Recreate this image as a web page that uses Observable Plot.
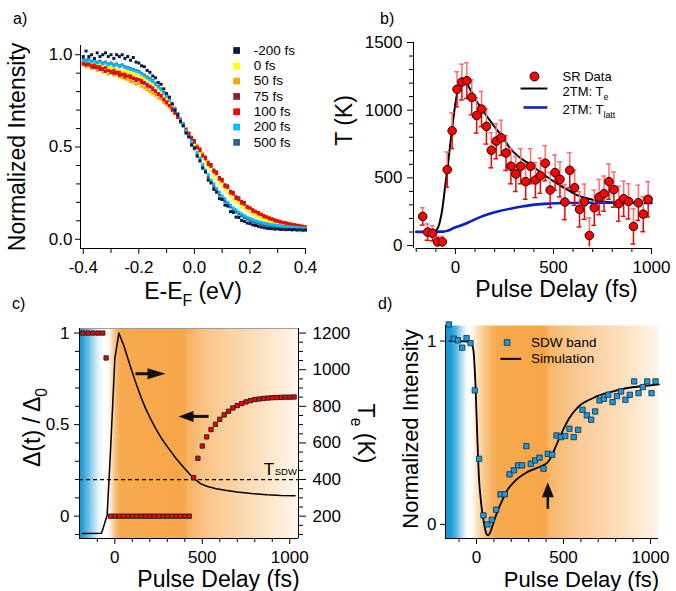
<!DOCTYPE html>
<html><head><meta charset="utf-8">
<script src="https://cdn.jsdelivr.net/npm/d3@7"></script>
<script src="https://cdn.jsdelivr.net/npm/@observablehq/plot@0.6"></script>
<style>
body{margin:0;background:#fff;}
#fig{position:relative;width:676px;height:591px;overflow:hidden;background:#fff;font-family:'Liberation Sans',Arial,Helvetica,sans-serif;color:#000;}
.plab{position:absolute;font-size:16px;line-height:16px;}
</style></head><body><div id="fig"></div>
<script>
// ---------- Panel a: EDCs ----------
const energy = [-0.40,-0.39,-0.38,-0.37,-0.36,-0.35,-0.34,-0.33,-0.32,-0.31,
 -0.30,-0.29,-0.28,-0.27,-0.26,-0.25,-0.24,-0.23,-0.22,-0.21,
 -0.20,-0.19,-0.18,-0.17,-0.16,-0.15,-0.14,-0.13,-0.12,-0.11,
 -0.10,-0.09,-0.08,-0.07,-0.06,-0.05,-0.04,-0.03,-0.02,-0.01,
 0.00,0.01,0.02,0.03,0.04,0.05,0.06,0.07,0.08,0.09,
 0.10,0.11,0.12,0.13,0.14,0.15,0.16,0.17,0.18,0.19,
 0.20,0.21,0.22,0.23,0.24,0.25,0.26,0.27,0.28,0.29,
 0.30,0.31,0.32,0.33,0.34,0.35,0.36,0.37,0.38,0.39,0.40];
const delayLabels = ["-200 fs","0 fs","50 fs","75 fs","100 fs","200 fs","500 fs"];
const edc_m200 = [0.99,1.02,0.99,1.00,0.98,1.01,0.99,1.00,1.01,0.99,
 1.00,0.98,1.00,0.99,1.00,0.98,0.99,0.97,0.985,0.96,
 0.955,0.94,0.935,0.915,0.905,0.885,0.875,0.85,0.84,0.815,
 0.79,0.77,0.735,0.70,0.675,0.64,0.615,0.575,0.555,0.51,
 0.495,0.45,0.425,0.385,0.365,0.32,0.305,0.27,0.255,0.22,
 0.215,0.185,0.18,0.15,0.145,0.12,0.118,0.102,0.097,0.088,
 0.085,0.078,0.075,0.07,0.066,0.063,0.06,0.058,0.057,0.055,
 0.056,0.053,0.054,0.052,0.053,0.051,0.052,0.05,0.051,0.049,0.05];
const edc_0 = [0.96,0.955,0.955,0.95,0.945,0.945,0.94,0.935,0.935,0.93,
 0.93,0.925,0.92,0.915,0.91,0.91,0.905,0.90,0.895,0.89,
 0.885,0.875,0.87,0.86,0.85,0.84,0.83,0.815,0.80,0.78,
 0.765,0.745,0.725,0.705,0.68,0.655,0.63,0.60,0.575,0.545,
 0.52,0.495,0.47,0.44,0.415,0.39,0.37,0.345,0.325,0.30,
 0.285,0.265,0.25,0.23,0.215,0.20,0.19,0.175,0.165,0.155,
 0.145,0.135,0.13,0.12,0.115,0.108,0.103,0.098,0.094,0.09,
 0.087,0.084,0.082,0.08,0.077,0.075,0.073,0.071,0.07,0.068,0.066];
const edc_50 = [0.945,0.935,0.94,0.925,0.93,0.915,0.92,0.905,0.91,0.895,
 0.90,0.89,0.895,0.88,0.875,0.87,0.865,0.855,0.85,0.84,
 0.845,0.83,0.82,0.81,0.80,0.79,0.78,0.765,0.76,0.74,
 0.73,0.715,0.70,0.68,0.66,0.64,0.62,0.60,0.575,0.555,
 0.53,0.51,0.485,0.465,0.44,0.42,0.40,0.375,0.355,0.335,
 0.315,0.295,0.28,0.26,0.245,0.23,0.22,0.205,0.19,0.18,
 0.17,0.16,0.155,0.145,0.14,0.13,0.125,0.118,0.112,0.107,
 0.10,0.097,0.093,0.09,0.086,0.085,0.08,0.078,0.075,0.072,0.07];
const edc_75 = [0.95,0.945,0.95,0.935,0.93,0.935,0.92,0.925,0.91,0.915,
 0.905,0.90,0.905,0.89,0.895,0.88,0.885,0.875,0.87,0.86,
 0.865,0.85,0.845,0.83,0.825,0.81,0.80,0.785,0.775,0.755,
 0.74,0.725,0.70,0.685,0.66,0.64,0.615,0.595,0.57,0.55,
 0.535,0.50,0.49,0.455,0.445,0.415,0.405,0.375,0.365,0.335,
 0.325,0.295,0.29,0.26,0.255,0.23,0.225,0.205,0.20,0.177,
 0.17,0.16,0.15,0.145,0.135,0.128,0.12,0.115,0.11,0.104,
 0.10,0.095,0.09,0.088,0.084,0.08,0.078,0.075,0.072,0.07,0.066];
const edc_100 = [0.955,0.96,0.945,0.94,0.945,0.93,0.935,0.92,0.93,0.915,
 0.91,0.915,0.90,0.905,0.89,0.895,0.885,0.885,0.875,0.87,
 0.865,0.86,0.85,0.84,0.83,0.82,0.805,0.79,0.78,0.76,
 0.745,0.725,0.71,0.685,0.67,0.635,0.625,0.585,0.575,0.54,
 0.525,0.495,0.48,0.45,0.435,0.405,0.395,0.365,0.355,0.325,
 0.315,0.285,0.28,0.25,0.245,0.22,0.215,0.195,0.19,0.172,
 0.168,0.152,0.148,0.137,0.133,0.122,0.12,0.11,0.108,0.099,
 0.097,0.093,0.09,0.086,0.083,0.08,0.077,0.075,0.072,0.068,0.065];
const edc_200 = [0.97,0.965,0.97,0.96,0.965,0.955,0.96,0.95,0.955,0.945,
 0.95,0.94,0.945,0.935,0.94,0.93,0.925,0.92,0.915,0.91,
 0.905,0.895,0.885,0.875,0.865,0.855,0.84,0.825,0.81,0.79,
 0.775,0.755,0.73,0.71,0.68,0.655,0.625,0.59,0.56,0.53,
 0.50,0.47,0.44,0.405,0.375,0.35,0.32,0.30,0.275,0.255,
 0.235,0.22,0.20,0.185,0.17,0.16,0.148,0.138,0.128,0.12,
 0.113,0.107,0.10,0.096,0.092,0.088,0.085,0.082,0.079,0.077,
 0.075,0.073,0.071,0.07,0.068,0.066,0.065,0.063,0.062,0.061,0.06];
const edc_500 = [0.975,0.97,0.975,0.965,0.97,0.96,0.965,0.955,0.96,0.95,
 0.955,0.945,0.95,0.94,0.945,0.935,0.93,0.925,0.92,0.915,
 0.91,0.90,0.89,0.88,0.87,0.86,0.845,0.83,0.815,0.795,
 0.78,0.755,0.73,0.705,0.68,0.65,0.62,0.585,0.555,0.52,
 0.49,0.46,0.425,0.395,0.365,0.335,0.31,0.285,0.26,0.24,
 0.22,0.205,0.19,0.175,0.16,0.148,0.137,0.127,0.118,0.11,
 0.103,0.097,0.092,0.087,0.083,0.08,0.077,0.074,0.072,0.07,
 0.068,0.066,0.065,0.063,0.062,0.061,0.06,0.059,0.058,0.057,0.056];
const aXTicks = [-0.4,-0.2,0,0.2,0.4];
const aXMinor = [-0.3,-0.1,0.1,0.3];
const aYTicks = [0,0.5,1];
const aYMinor = [0.1,0.2,0.3,0.4,0.6,0.7,0.8,0.9];

// ---------- Panel b: SR temperatures ----------
const srDelay = [-167,-142,-117,-92,-67,-42,-17,8,33,58,83,108,133,158,183,208,233,258,283,308,333,358,383,408,433,458,483,508,533,558,583,608,633,658,683,708,733,758,783,808,833,858,883,908,933,958,983];
const srTemp = [215,99,91,27,27,561,848,1154,1208,1218,1095,961,1008,880,704,771,796,684,586,529,586,472,586,484,516,608,410,539,489,321,556,427,267,324,74,279,358,383,472,413,309,346,326,141,316,232,341];
const srErr = [64,60,56,40,40,130,132,130,132,132,
 130,130,130,130,130,130,130,130,130,130,
 130,130,130,130,130,130,130,130,130,130,
 130,130,130,130,130,130,130,130,130,130,
 130,130,130,130,130,130,130];
const teDelayB = [-200,-120,-100,-78,-65,-53,-36,-19,7,20,32,41,60,80,110,143,180,220,246,280,320,382,450,519,580,621,680,723,775,850,1000];
const teB = [100,100,110,185,290,432,630,840,1112,1180,1203,1210,1190,1140,1060,990,915,840,790,715,660,598,525,457,405,372,345,330,321,316,312];
const tlDelayB = [-200,-60,-40,0,41,80,126,170,220,280,340,405,480,553,700,850,1000];
const tlB = [101,103,110,135,155,180,210,233,253,272,288,302,310,314,316,316,316];
const bXTicks = [0,500,1000];
const bXMinor = [-200,-100,100,200,300,400,600,700,800,900];
const bYTicks = [0,500,1000,1500];
const bYMinor = [100,200,300,400,600,700,800,900,1100,1200,1300,1400];

// ---------- Panel c: gap and Te ----------
const gapDelay = [-183,-154,-126,-97,-69,-50,
 -25,0,25,50,75,100,125,150,175,200,225,250,275,300,325,350,375,400,425,
 450,475,500,525,550,575,600,625,650,675,700,725,750,775,800,825,850,875,900,925,950,975,1000,1025];
const gapRatio = [1,1,1,1,1,0.864,
 0,0,0,0,0,0,0,0,0,0,0,0,0,0,0,0,0,0,0,
 0.21,0.316,0.383,0.433,0.473,0.502,0.529,0.553,0.573,0.591,0.604,0.615,0.624,0.631,0.637,0.640,0.643,0.645,0.647,0.648,0.649,0.650,0.650,0.651];
const teDelayC = [-185,-76,-44,-25,0,23,52,75,100,125,150,175,200,233,270,300,350,395,452,490,530,580,640,700,780,870,950,1030];
const teC = [105,106,205,550,1060,1200,1130,1060,985,915,850,790,740,680,620,580,515,465,405,378,362,350,340,332,324,317,313,311];
const tSDW = 400;
const cXTicks = [0,500,1000];
const cXMinor = [-100,100,200,300,400,600,700,800,900];
const cYTicks = [0,0.5,1];
const cYMinor = [-0.1,0.1,0.2,0.3,0.4,0.6,0.7,0.8,0.9];
const cTeTicks = [200,400,600,800,1000,1200];
const cTeMinor = [100,150,250,300,350,450,500,550,650,700,750,850,900,950,1050,1100,1150];

// ---------- Panel d: SDW band ----------
const sdwDelay = [-159,-130,-107,-82,-57,-34,-10,15,40,63,88,113,138,163,190,215,239,262,287,312,337,362,385,410,435,460,485,510,534,559,584,609,634,659,682,707,732,757,782,807,831,856,881,906,931,956,981,1006,1029];
const sdwInt = [1.091,1.013,1.004,0.964,1.016,0.989,0.731,0.358,0.049,0.0,0.025,0.08,0.164,0.164,0.273,0.295,0.322,0.322,0.427,0.331,0.349,0.364,0.304,0.385,0.38,0.485,0.476,0.482,0.522,0.476,0.516,0.625,0.595,0.571,0.616,0.676,0.685,0.707,0.667,0.70,0.725,0.68,0.707,0.78,0.716,0.749,0.78,0.716,0.78];
const simDelay = [-155,-100,-34,-19,-6,4,13,27,42,57,67,80,96,119,148,176,215,291,368,406,429,454,483,531,579,674,770,866,962,1048];
const simInt = [1.0,1.0,0.995,0.958,0.767,0.495,0.276,0.113,0.013,-0.051,-0.06,-0.042,0.004,0.067,0.131,0.185,0.231,0.285,0.316,0.335,0.367,0.422,0.485,0.576,0.636,0.691,0.722,0.744,0.755,0.764];
const dXTicks = [0,500,1000];
const dXMinor = [-100,100,200,300,400,600,700,800,900];
const dYTicks = [0,1];

// ---------- styles / layout ----------
const seriesColors = ["#0a1a40","#ffff00","#ffa500","#9b1c24","#ff0000","#00bfff","#3a5f8f"];
const seriesValues = [edc_m200, edc_0, edc_50, edc_75, edc_100, edc_200, edc_500];
const drawOrder = [1,2,3,4,6,5,0];
const FONT = "'Liberation Sans', Arial, Helvetica, sans-serif";
const baseStyle = {fontFamily: FONT, fontSize: "17px", color: "#000", background: "transparent", overflow: "visible"};
const gradC = [[-202,"#0f93d0"],[-185,"#2aa0d6"],[-150,"#6cbfe5"],[-125,"#a6d8ef"],[-100,"#d8eef8"],[-80,"#f4fafd"],[-55,"#ffffff"],[-35,"#fffbf6"],[-15,"#fad9b0"],[5,"#f8bd78"],[25,"#f7ac55"],[40,"#f7a94d"],[390,"#f6a748"],[420,"#f7b262"],[490,"#f9c07f"],[600,"#facc98"],[700,"#fbd4a8"],[850,"#fde3c4"],[1050,"#fff6ec"]];
const gradD = [[-178,"#1096d2"],[-145,"#1f9dd6"],[-115,"#5cb8e2"],[-90,"#aad9ef"],[-65,"#e6f4fa"],[-50,"#ffffff"],[-25,"#fffdfb"],[0,"#fde4c4"],[40,"#f9c98c"],[90,"#f7b263"],[120,"#f7a94d"],[395,"#f6a748"],[420,"#f7b566"],[490,"#f9c07f"],[600,"#facb97"],[700,"#fbd3a7"],[870,"#fde2c3"],[1046,"#fff5ea"]];

// arrow head symbols (pixel geometry, tip at the anchor)
const headRight = {draw(c){c.moveTo(0,0);c.lineTo(-18,-5.5);c.lineTo(-18,5.5);c.closePath();}};
const headLeft = {draw(c){c.moveTo(0,0);c.lineTo(15,-5.5);c.lineTo(15,5.5);c.closePath();}};
const headUp = {draw(c){c.moveTo(0,0);c.lineTo(-6,15);c.lineTo(6,15);c.closePath();}};

function ax(kind, opts){ return (kind==="x"?Plot.axisX:Plot.axisY)({label:null, ...opts}); }
const blank = () => "";
const str = d => String(d);
const lbl = (text, opts) => Plot.text([text], {textAnchor: "middle", lineAnchor: "middle", fontSize: 23, ...opts});

// ---------- Panel A ----------
const aRows = seriesValues.map((vals,s)=>energy.map((e,i)=>({e, v: vals[i], s})));
const aLegendY = [1.023,0.940,0.857,0.774,0.691,0.608,0.525];
const A = Plot.plot({
  width: 330, height: 300, marginLeft: 80, marginRight: 25, marginTop: 45, marginBottom: 52,
  x: {domain: [-0.41, 0.40]}, y: {domain: [-0.05, 1.05]}, color: {type: "identity"},
  style: baseStyle,
  marks: [
    Plot.ruleX([-0.41]), Plot.ruleY([-0.05]),
    ax("x", {ticks: aXTicks, tickSize: 6, tickPadding: 6, tickFormat: d => d.toFixed(1), fontSize: 17}),
    ax("x", {ticks: aXMinor, tickSize: 5, tickFormat: blank}),
    ax("y", {ticks: aYTicks, tickSize: 5, tickPadding: 3, tickFormat: d => d.toFixed(1), fontSize: 17}),
    ax("y", {ticks: aYMinor, tickSize: 4, tickFormat: blank}),
    ...drawOrder.map(s => Plot.dot(aRows[s], {x: "e", y: "v", symbol: "square", r: 1.7, fill: seriesColors[s], stroke: "none"})),
    Plot.dot(delayLabels, {x: 0.152, y: (d,i) => aLegendY[i], symbol: "square", r: 3.8, fill: (d,i) => seriesColors[i], stroke: "none"}),
    Plot.text(delayLabels, {x: 0.214, y: (d,i) => aLegendY[i], text: d => d, textAnchor: "start", fontSize: 13.5}),
    lbl("Normalized Intensity", {frameAnchor: "left", dx: -63, rotate: -90}),
    lbl("E-E_{F} (eV)", {frameAnchor: "bottom", dy: 43})
  ]
});

// ---------- Panel B ----------
const srRows = srDelay.map((t,i)=>({t, T: srTemp[i], e: srErr[i]}));
const teRowsB = teDelayB.map((t,i)=>({t, T: teB[i]}));
const tlRowsB = tlDelayB.map((t,i)=>({t, T: tlB[i]}));
const pink = "#ff6e6e", red = "#f00000";
const B = Plot.plot({
  width: 346, height: 300, marginLeft: 83, marginRight: 25, marginTop: 42, marginBottom: 52,
  x: {domain: [-214, 1000]}, y: {domain: [-22, 1500]},
  style: baseStyle,
  marks: [
    Plot.ruleX([-214]), Plot.ruleY([-22], {x1: -200, x2: 1000}),
    ax("x", {ticks: bXTicks, tickSize: 6, tickPadding: 6, tickFormat: str, fontSize: 17}),
    ax("x", {ticks: bXMinor, tickSize: 4, tickFormat: blank}),
    ax("y", {ticks: bYTicks, tickSize: 6, tickPadding: 5, tickFormat: str, fontSize: 17}),
    ax("y", {ticks: bYMinor, tickSize: 4, tickFormat: blank}),
    Plot.line(teRowsB, {x: "t", y: "T", stroke: "#000", strokeWidth: 2, curve: "monotone-x"}),
    Plot.line(tlRowsB, {x: "t", y: "T", stroke: "#0b1fc6", strokeWidth: 2.6, curve: "monotone-x"}),
    Plot.ruleX(srRows, {x: "t", y1: "T", y2: d => d.T + d.e, stroke: pink, strokeWidth: 1.5}),
    Plot.ruleX(srRows, {x: "t", y1: d => Math.max(d.T - d.e, -12), y2: "T", stroke: red, strokeWidth: 1.5}),
    Plot.ruleY(srRows, {y: d => d.T + d.e, x1: d => d.t - 12, x2: d => d.t + 12, stroke: pink, strokeWidth: 1.5}),
    Plot.ruleY(srRows.filter(d => d.T - d.e > -12), {y: d => d.T - d.e, x1: d => d.t - 12, x2: d => d.t + 12, stroke: red, strokeWidth: 1.5}),
    Plot.dot(srRows, {x: "t", y: "T", r: 4.3, fill: "#ff0000", stroke: "#000", strokeWidth: 0.9}),
    // legend
    Plot.dot([0], {x: 403, y: 1249, r: 4.5, fill: "#ff0000", stroke: "#000", strokeWidth: 0.9}),
    Plot.link([0], {x1: 332, x2: 469, y1: 1160, y2: 1160, stroke: "#000", strokeWidth: 2}),
    Plot.link([0], {x1: 347, x2: 469, y1: 1020, y2: 1020, stroke: "#0b1fc6", strokeWidth: 2.6}),
    Plot.text(["SR Data"], {x: 546, y: 1247, textAnchor: "start", fontSize: 13}),
    Plot.text(["2TM: T_{e}"], {x: 546, y: 1136, textAnchor: "start", fontSize: 13}),
    Plot.text(["2TM: T_{latt}"], {x: 546, y: 1004, textAnchor: "start", fontSize: 13}),
    lbl("T (K)", {frameAnchor: "left", dx: -69, dy: -25, rotate: -90}),
    lbl("Pulse Delay (fs)", {frameAnchor: "bottom", dx: 24, dy: 41})
  ]
});

// ---------- Panel C ----------
const k2d = k => (k - 200) / 1000;
const d2k = d => String(Math.round(200 + 1000 * d));
const gapRows = gapDelay.map((t,i)=>({t, g: gapRatio[i]}));
const teRowsC = teDelayC.map((t,i)=>({t, d: k2d(teC[i])}));
const arrowsC = [{tail: 118, tip: 290, y: 0.778}, {tail: 536, tip: 364, y: 0.545}];
const C = Plot.plot({
  width: 380, height: 291, marginLeft: 79, marginRight: 82, marginTop: 28, marginBottom: 53,
  x: {domain: [-202, 1050]}, y: {domain: [-0.122, 1.025]},
  style: baseStyle,
  marks: [
    Plot.frame({fill: "url(#gradC)", stroke: "#8a8a8a", strokeWidth: 0.8}),
    Plot.ruleX([-202]), Plot.ruleX([1050]), Plot.ruleY([-0.122]),
    ax("x", {ticks: cXTicks, tickSize: 6, tickPadding: 6, tickFormat: str, fontSize: 17}),
    ax("x", {ticks: cXMinor, tickSize: 4, tickFormat: blank}),
    ax("y", {ticks: cYTicks, tickSize: 5, tickPadding: 5, tickFormat: str, fontSize: 17}),
    ax("y", {ticks: cYMinor, tickSize: 4, tickFormat: blank}),
    Plot.axisY({anchor: "right", label: null, ticks: cTeTicks.map(k2d), tickFormat: d2k, tickSize: 7, tickPadding: 7, fontSize: 17}),
    Plot.axisY({anchor: "right", label: null, ticks: cTeMinor.map(k2d), tickFormat: blank, tickSize: 4}),
    Plot.ruleY([k2d(tSDW)], {stroke: "#000", strokeWidth: 1.3, strokeDasharray: "4,3"}),
    Plot.line(teRowsC, {x: "t", y: "d", stroke: "#000", strokeWidth: 1.5}),
    Plot.dot(gapRows, {x: "t", y: "g", symbol: "square", r: 2.4, fill: "#ff0000", stroke: "#222", strokeWidth: 1}),
    Plot.link(arrowsC, {x1: "tail", x2: d => d.tip + (d.tail - d.tip) * 0.45, y1: "y", y2: "y", stroke: "#111", strokeWidth: 3}),
    Plot.dot(arrowsC.slice(0,1), {x: "tip", y: "y", symbol: headRight, fill: "#111", stroke: "none"}),
    Plot.dot(arrowsC.slice(1,2), {x: "tip", y: "y", symbol: headLeft, fill: "#111", stroke: "none"}),
    Plot.text(["T"], {x: 851, y: 0.2237, textAnchor: "start", lineAnchor: "bottom", fontSize: 17}),
    Plot.text(["SDW"], {x: 914, y: 0.2237, textAnchor: "start", lineAnchor: "bottom", fontSize: 9.5}),
    lbl("Δ(t) / Δ_{0}", {frameAnchor: "left", dx: -47, dy: -6, rotate: -90}),
    lbl("T_{e} (K)", {frameAnchor: "right", dx: 67, rotate: 90}),
    lbl("Pulse Delay (fs)", {frameAnchor: "bottom", dx: 29.5, dy: 41})
  ]
});

// ---------- Panel D ----------
const sdwRows = sdwDelay.map((t,i)=>({t, v: sdwInt[i]}));
const simRows = simDelay.map((t,i)=>({t, v: simInt[i]}));
const arrowD = [{x: 410, tail: 0.085, tip: 0.23}];
const D = Plot.plot({
  width: 296, height: 291, marginLeft: 65, marginRight: 18, marginTop: 25, marginBottom: 53,
  x: {domain: [-178, 1046]}, y: {domain: [-0.077, 1.085]},
  style: baseStyle,
  marks: [
    Plot.frame({fill: "url(#gradD)", stroke: "none"}),
    Plot.ruleX([-178]), Plot.ruleY([-0.077]),
    ax("x", {ticks: dXTicks, tickSize: 6, tickPadding: 6, tickFormat: str, fontSize: 17}),
    ax("x", {ticks: dXMinor, tickSize: 4, tickFormat: blank}),
    ax("y", {ticks: dYTicks, tickSize: 5, tickPadding: 4, tickFormat: str, fontSize: 17}),
    Plot.line(simRows, {x: "t", y: "v", stroke: "#000", strokeWidth: 1.8, curve: "monotone-x"}),
    Plot.dot(sdwRows, {x: "t", y: "v", symbol: "square", r: 3, fill: "#1e9ad8", stroke: "#0d2a4a", strokeWidth: 0.8}),
    Plot.link(arrowD, {x1: "x", x2: "x", y1: "tail", y2: d => d.tip + (d.tail - d.tip) * 0.45, stroke: "#111", strokeWidth: 2.6}),
    Plot.dot(arrowD, {x: "x", y: "tip", symbol: headUp, fill: "#111", stroke: "none"}),
    Plot.dot([0], {x: 176, y: 0.992, symbol: "square", r: 3.2, fill: "#1e9ad8", stroke: "#0d2a4a", strokeWidth: 0.8}),
    Plot.link([0], {x1: 138, x2: 257, y1: 0.903, y2: 0.903, stroke: "#000", strokeWidth: 2}),
    Plot.text(["SDW band"], {x: 314, y: 0.992, textAnchor: "start", fontSize: 13.5}),
    Plot.text(["Simulation"], {x: 314, y: 0.903, textAnchor: "start", fontSize: 13.5}),
    lbl("Normalized Intensity", {frameAnchor: "left", dx: -35, dy: -3, rotate: -90, fontSize: 22}),
    lbl("Pulse Delay (fs)", {frameAnchor: "bottom", dx: 29.5, dy: 41, fontSize: 22})
  ]
});

// ---------- assembly ----------
const fig = document.getElementById("fig");
function place(svg, left, top){ svg.style.position = "absolute"; svg.style.left = left + "px"; svg.style.top = top + "px"; fig.appendChild(svg); }
place(A, 0, 0); place(B, 330, 0); place(C, 0, 300); place(D, 380, 300);

function addGradient(svg, id, stops){
  const sx = svg.scale("x");
  const f = d3.scaleLinear(sx.domain, sx.range);
  const [r0, r1] = [f(sx.domain[0]), f(sx.domain[1])];
  const g = d3.select(svg).insert("defs", ":first-child").append("linearGradient")
    .attr("id", id).attr("gradientUnits", "userSpaceOnUse")
    .attr("x1", r0).attr("x2", r1).attr("y1", 0).attr("y2", 0);
  for (const [t, c] of stops) g.append("stop").attr("offset", (f(t) - r0) / (r1 - r0)).attr("stop-color", c);
}
addGradient(C, "gradC", gradC);
addGradient(D, "gradD", gradD);

function richText(svg){
  d3.select(svg).selectAll("text").each(function(){
    const raw = this.textContent;
    if (!raw.includes("_{")) return;
    const fs = parseFloat(getComputedStyle(this).fontSize) || 17;
    const parts = raw.split(/(_\{[^}]*\})/).filter(Boolean);
    const sel = d3.select(this); sel.text(null);
    let shifted = false;
    for (const p of parts){
      if (p.startsWith("_{")) {
        sel.append("tspan").attr("font-size", fs * 0.68).attr("dy", fs * 0.3).text(p.slice(2, -1));
        shifted = true;
      } else {
        const t = sel.append("tspan").text(p);
        if (shifted) { t.attr("dy", -fs * 0.3); shifted = false; }
      }
    }
  });
}
[A, B, C, D].forEach(richText);

// panel letters
[["a)",13,11],["b)",380,11],["c)",12,296],["d)",378,296]].forEach(([t,x,y])=>{
  const d = document.createElement("div"); d.className = "plab"; d.textContent = t;
  d.style.left = x + "px"; d.style.top = y + "px"; fig.appendChild(d);
});
</script></body></html>
